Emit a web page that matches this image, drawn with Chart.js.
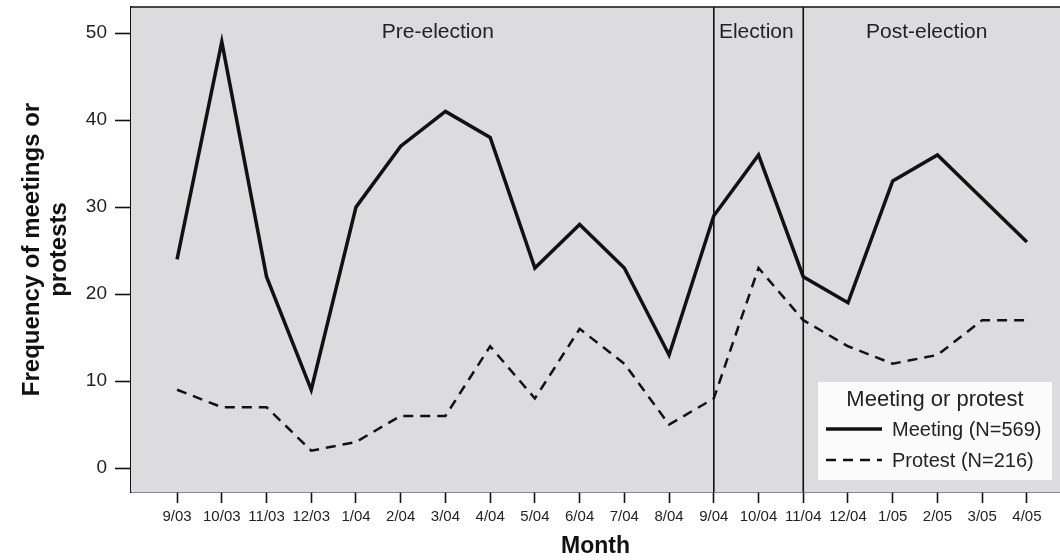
<!DOCTYPE html>
<html>
<head>
<meta charset="utf-8">
<script src="https://cdn.jsdelivr.net/npm/chart.js@4/dist/chart.umd.min.js"></script>
<style>
  html, body { margin: 0; padding: 0; background: #fff; }
  #wrap { width: 1060px; height: 560px; }
</style>
</head>
<body>
<div id="wrap"><canvas id="grafico"></canvas></div>
<script>
const months = ["9/03", "10/03", "11/03", "12/03", "1/04", "2/04", "3/04", "4/04", "5/04", "6/04",
                "7/04", "8/04", "9/04", "10/04", "11/04", "12/04", "1/05", "2/05", "3/05", "4/05"];
const meetings = [24, 49, 22, 9, 30, 37, 41, 38, 23, 28, 23, 13, 29, 36, 22, 19, 33, 36, 31, 26];
const protests = [9, 7, 7, 2, 3, 6, 6, 14, 8, 16, 12, 5, 8, 23, 17, 14, 12, 13, 17, 17];
const yTicks = [0, 10, 20, 30, 40, 50];
const boundaries = [12, 14];               // 9/04 and 11/04
const regionNames = ["Pre-election", "Election", "Post-election"];
const regionCenters = [5.83, 12.95, 16.76];

const FONT = "'Liberation Sans', Arial, Helvetica, sans-serif";

/* background, period lines, labels and legend */
const periodos = {
    id: "periodos",
    beforeDatasetsDraw(chart) {
        const { ctx, chartArea: a } = chart;
        ctx.save();
        ctx.fillStyle = "#dcdcde";
        ctx.fillRect(a.left, a.top, a.right - a.left, a.bottom - a.top);
        ctx.restore();
    },
    afterDatasetsDraw(chart) {
        const { ctx, chartArea: a, scales } = chart;
        ctx.save();
        ctx.strokeStyle = "#111";
        ctx.lineWidth = 1.6;
        ctx.beginPath();
        ctx.moveTo(a.left, a.top);
        ctx.lineTo(a.right, a.top);
        boundaries.forEach(b => {
            const x = scales.x.getPixelForValue(b);
            ctx.moveTo(x, a.top);
            ctx.lineTo(x, a.bottom);
        });
        ctx.stroke();

        ctx.fillStyle = "#222";
        ctx.font = "21px " + FONT;
        ctx.textAlign = "center";
        ctx.textBaseline = "middle";
        regionNames.forEach((n, i) => {
            ctx.fillText(n, scales.x.getPixelForValue(regionCenters[i]), a.top + 25);
        });

        /* legend */
        const bw = 234, bh = 98;
        const bx = a.right - 8 - bw, by = a.bottom - 12 - bh;
        ctx.fillStyle = "#fbfbfb";
        ctx.fillRect(bx, by, bw, bh);
        ctx.fillStyle = "#222";
        ctx.font = "22px " + FONT;
        ctx.fillText("Meeting or protest", bx + bw / 2, by + 18);
        ctx.textAlign = "left";
        ctx.font = "20px " + FONT;
        chart.data.datasets.forEach((ds, i) => {
            const y = by + 47 + i * 31;
            ctx.strokeStyle = ds.borderColor;
            ctx.lineWidth = ds.borderWidth;
            ctx.setLineDash(ds.borderDash || []);
            ctx.beginPath();
            ctx.moveTo(bx + 8, y);
            ctx.lineTo(bx + 64, y);
            ctx.stroke();
            ctx.fillText(ds.label, bx + 74, y + 1);
        });
        ctx.restore();
    }
};

new Chart(document.getElementById("grafico"), {
    type: "line",
    data: {
        datasets: [{
            label: "Meeting (N=569)",
            data: meetings.map((v, i) => ({ x: i, y: v })),
            borderColor: "#111",
            borderWidth: 3.5,
            pointRadius: 0,
            tension: 0,
            fill: false
        }, {
            label: "Protest (N=216)",
            data: protests.map((v, i) => ({ x: i, y: v })),
            borderColor: "#111",
            borderWidth: 2.5,
            borderDash: [10, 7],
            pointRadius: 0,
            tension: 0,
            fill: false
        }]
    },
    options: {
        responsive: true,
        maintainAspectRatio: false,
        animation: false,
        layout: { padding: { top: 7, right: 0, left: 0, bottom: 0 } },
        plugins: {
            legend: { display: false },
            tooltip: { enabled: false }
        },
        scales: {
            x: {
                type: "linear",
                min: -1.03,
                max: 19.74,
                afterBuildTicks: s => { s.ticks = months.map((_, i) => ({ value: i })); },
                afterFit: s => { s.height = 68; s.paddingLeft = 0; s.paddingRight = 0; },
                ticks: {
                    autoSkip: false,
                    maxRotation: 0,
                    padding: 5,
                    color: "#222",
                    font: { family: FONT, size: 15 },
                    callback: v => months[v]
                },
                grid: { drawOnChartArea: false, tickLength: 11, tickColor: "#111", tickWidth: 1.6 },
                border: { display: true, color: "#111", width: 1.6 },
                title: {
                    display: true,
                    text: "Month",
                    color: "#111",
                    font: { family: FONT, size: 23, weight: "bold" },
                    padding: { top: 5, bottom: 0 }
                }
            },
            y: {
                min: -2.75,
                max: 53,
                afterBuildTicks: s => { s.ticks = yTicks.map(v => ({ value: v })); },
                afterFit: s => { s.width = 131; s.paddingTop = 0; s.paddingBottom = 0; },
                ticks: {
                    padding: 8,
                    color: "#222",
                    font: { family: FONT, size: 19 }
                },
                grid: { drawOnChartArea: false, tickLength: 16, tickColor: "#111", tickWidth: 1.6 },
                border: { display: true, color: "#111", width: 1.6 },
                title: {
                    display: true,
                    text: ["Frequency of meetings or", "protests"],
                    color: "#111",
                    font: { family: FONT, size: 24, weight: "bold", lineHeight: 1.12 },
                    padding: { top: 19, bottom: 0 }
                }
            }
        }
    },
    plugins: [periodos]
});
</script>
</body>
</html>
